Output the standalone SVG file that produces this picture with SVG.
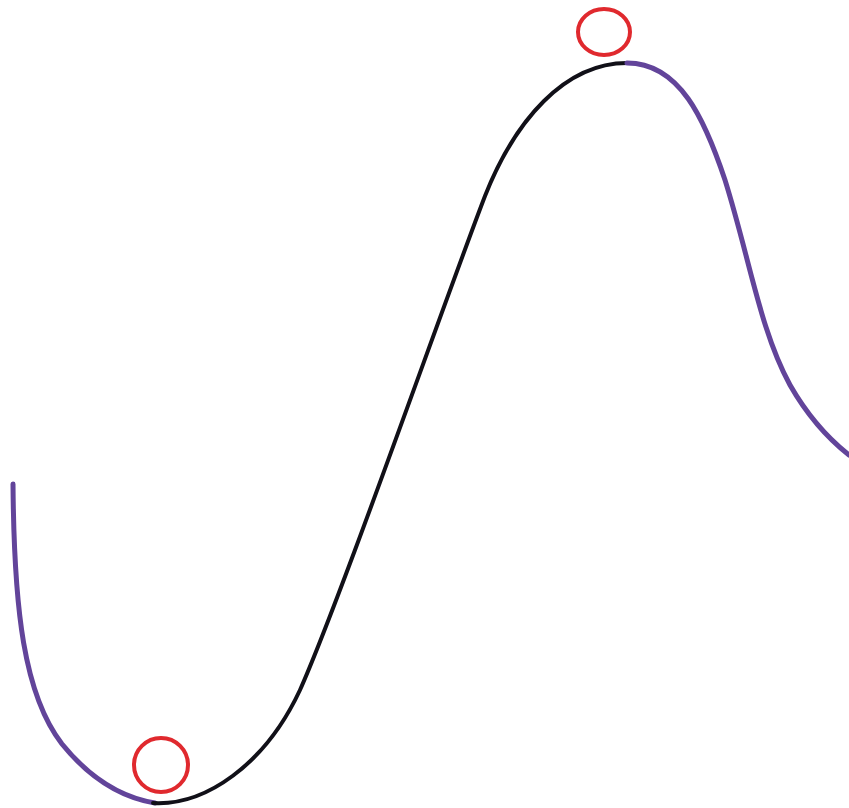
<svg xmlns="http://www.w3.org/2000/svg" width="849" height="808" viewBox="0 0 849 808">
  <style>
    .black { fill: none; stroke: #111018; stroke-width: 4; stroke-linecap: round; }
    .purple { fill: none; stroke: #62449a; stroke-width: 5; stroke-linecap: round; }
    .ball { fill: none; stroke: #e0292e; stroke-width: 4; }
  </style>
  <rect width="849" height="808" fill="#ffffff"/>
  <g id="curve">
    <path class="purple" d="M 13 484 C 14 610, 24 695, 62 744 C 88 776, 118 797, 155 803"/>
    <path class="black" d="M 153 803 C 205 806, 265 765, 300 690 C 340 600, 445 300, 485 196 C 515 120, 565 63, 627 63"/>
    <path class="purple" d="M 627 63 C 680 63, 705 120, 725 180 C 750 260, 760 330, 790 385 C 810 420, 830 440, 849 455"/>
  </g>
  <g id="ball-top">
    <ellipse class="ball" cx="604" cy="32" rx="26" ry="23"/>
  </g>
  <g id="ball-bottom">
    <ellipse class="ball" cx="161" cy="765" rx="27" ry="27"/>
  </g>
</svg>
